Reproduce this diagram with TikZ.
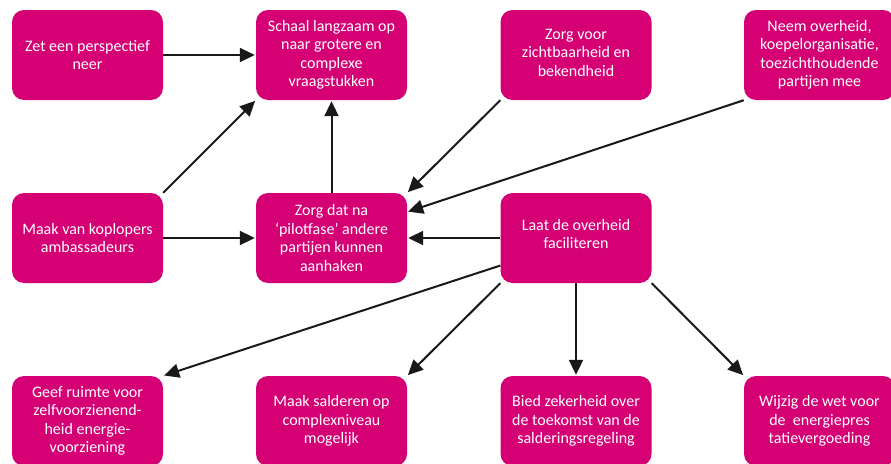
\documentclass[tikz,border=0pt]{standalone}
\usepackage{fontspec}
\setmainfont{Carlito}
\usetikzlibrary{arrows.meta}
\definecolor{boxmag}{RGB}{212,0,116}
\begin{document}
\begin{tikzpicture}[x=1pt,y=-1pt,
  box/.style={draw=none, fill=boxmag, text=white, rounded corners=12pt,
    minimum width=151pt, minimum height=90pt, inner sep=2pt, align=center,
    font=\fontsize{16}{18.5}\selectfont},
  conn/.style={draw=black!90, line width=2pt, -{Triangle[length=15pt,width=14pt]}, shorten >=1pt}]
\useasboundingbox (0,0) rectangle (891,463);
\clip (0,0) rectangle (891,463);
\node[box] (zet) at (87.5,55) {Zet een perspectief\\neer};
\node[box] (schaal) at (331.5,55) {Schaal langzaam op\\naar grotere en\\complexe\\vraagstukken};
\node[box] (zorgvoor) at (576,55) {Zorg voor\\zichtbaarheid en\\bekendheid\\[-14pt]};
\node[box] (neem) at (819.5,55) {Neem overheid,\\koepelorganisatie,\\toezichthoudende\\partijen mee};
\node[box] (koplopers) at (87.5,238) {Maak van koplopers\\ambassadeurs};
\node[box] (zorgdat) at (331.5,238) {Zorg dat na\\‘pilotfase’ andere\\partijen kunnen\\aanhaken};
\node[box] (laat) at (576,238) {Laat de overheid\\faciliteren\\[-10pt]};
\node[box] (geef) at (87.5,421) {Geef ruimte voor\\zelfvoorzienend-\\heid energie-\\voorziening};
\node[box] (salderen) at (331.5,421) {Maak salderen op\\complexniveau\\mogelijk};
\node[box] (bied) at (576,421) {Bied zekerheid over\\de toekomst van de\\salderingsregeling};
\node[box] (wijzig) at (819.5,421) {Wijzig de wet voor\\de\ \ energiepres\\tatievergoeding};
\draw[conn] (zet.east) -- (schaal.west);
\draw[conn] (koplopers.north east) -- (schaal.south west);
\draw[conn] (koplopers.east) -- (zorgdat.west);
\draw[conn] (zorgdat.north) -- (schaal.south);
\draw[conn] (zorgvoor.south west) -- (zorgdat.north east);
\draw[conn] (neem.south west) -- (zorgdat.19);
\draw[conn] (laat.west) -- (zorgdat.east);
\draw[conn] (laat.200) -- (geef.north east);
\draw[conn] (laat.south west) -- (salderen.north east);
\draw[conn] (laat.south) -- (bied.north);
\draw[conn] (laat.south east) -- (wijzig.north west);
\end{tikzpicture}
\end{document}
